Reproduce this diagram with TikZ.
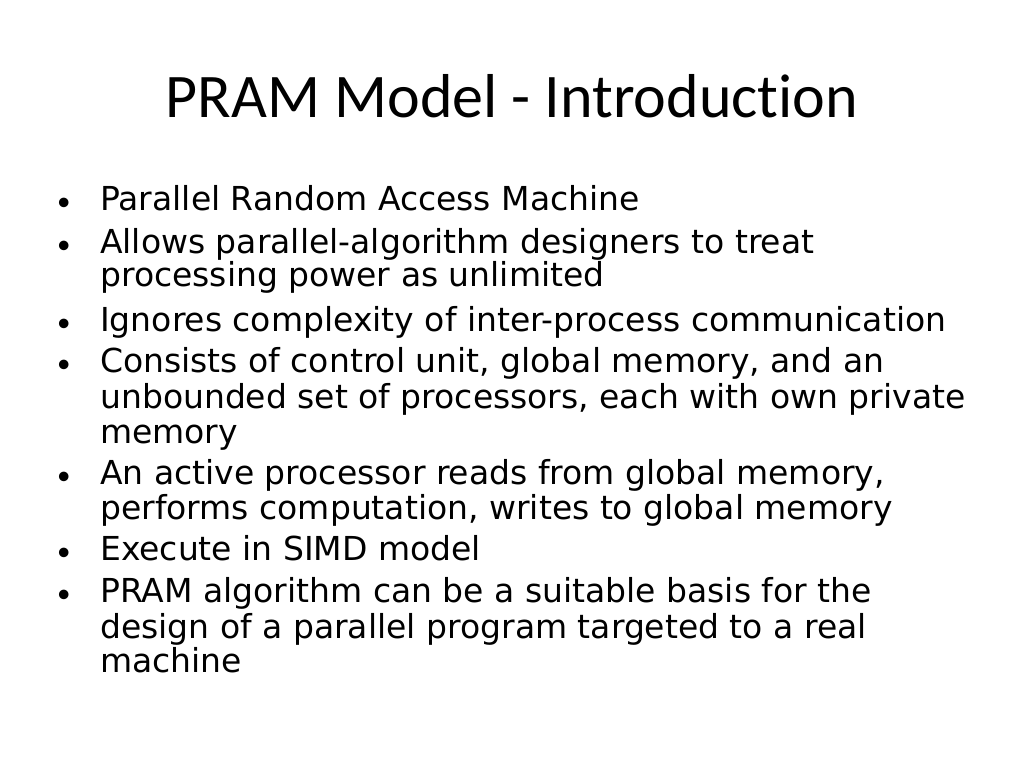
\documentclass[tikz,border=0pt]{standalone}
\usepackage{fontspec}
\setmainfont{Carlito}[Ligatures=NoCommon]
\newfontfamily\bodyfont{DejaVu Sans}
\usepackage{tikz}
\tikzset{
  slidetitle/.style={anchor=base,inner sep=0pt,font=\fontsize{62}{62}\selectfont},
  textline/.style={anchor=base west,inner sep=0pt,font=\bodyfont\fontsize{33}{33}\selectfont},
  bulletdot/.style={anchor=base west,inner sep=0pt,font=\fontsize{27}{27}\selectfont}}

\begin{document}
\begin{tikzpicture}[x=1pt,y=-1pt]
\useasboundingbox[fill=white] (0,0) rectangle (1024,768);
\node[slidetitle] (title) at (512,117) {PRAM Model - Introduction};
% bullets
\foreach \y/\name in {210/b1,253/b2,331/b3,372/b4,484/b5,560/b6,602/b7}
  \node[bulletdot] (\name) at (57,\y) {\textbullet};
% lines of text
\node[textline] (l1) at (100,210) {Parallel Random Access Machine};
\node[textline] (l2) at (100,253) {Allows parallel-algorithm designers to treat};
\node[textline] (l3) at (100,286) {processing power as unlimited};
\node[textline] (l4) at (100,331) {Ignores complexity of inter-process communication};
\node[textline] (l5) at (100,372) {Consists of control unit, global memory, and an};
\node[textline] (l6) at (100,408) {unbounded set of processors, each with own private};
\node[textline] (l7) at (100,443) {memory};
\node[textline] (l8) at (100,484) {An active processor reads from global memory,};
\node[textline] (l9) at (100,519) {performs computation, writes to global memory};
\node[textline] (l10) at (100,560) {Execute in SIMD model};
\node[textline] (l11) at (100,602) {PRAM algorithm can be a suitable basis for the};
\node[textline] (l12) at (100,638) {design of a parallel program targeted to a real};
\node[textline] (l13) at (100,672) {machine};
\end{tikzpicture}
\end{document}
